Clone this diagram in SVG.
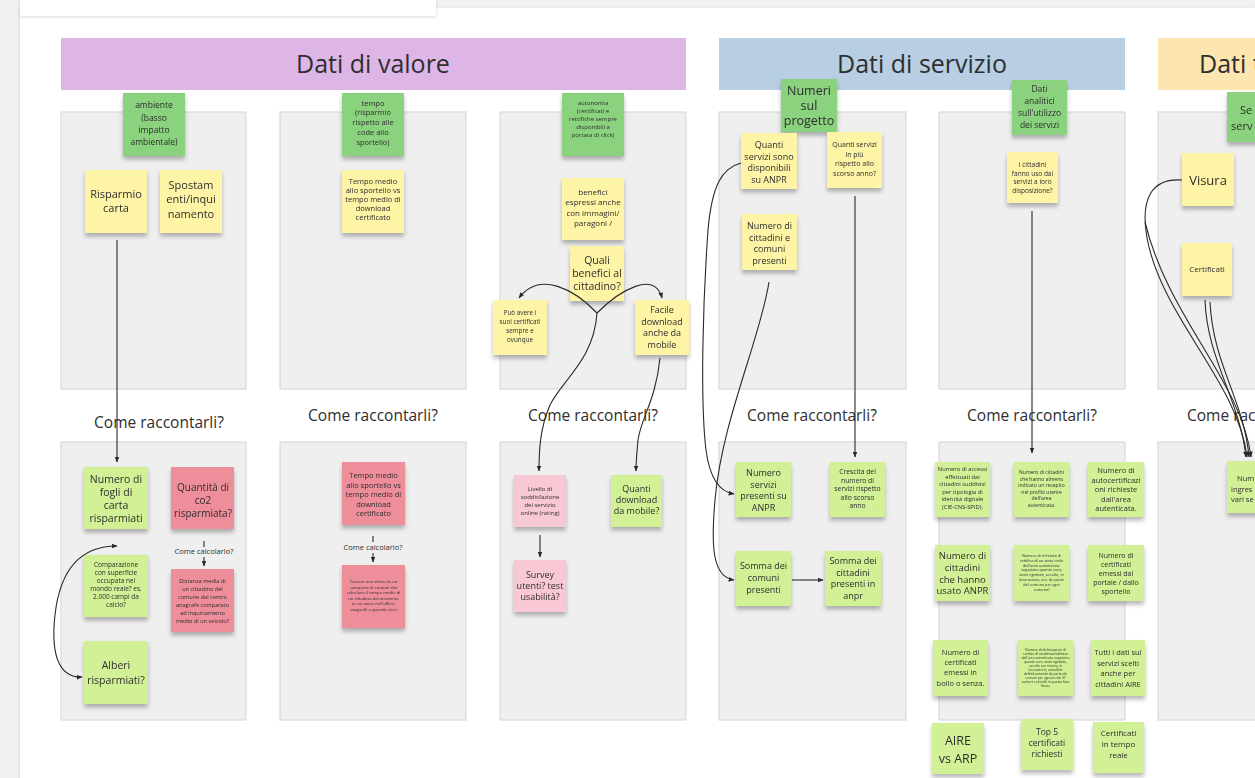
<svg xmlns="http://www.w3.org/2000/svg" width="1255" height="778" viewBox="0 0 1255 778">
<defs>
<style>
.t{font-family:"Open Sans","Noto Sans","DejaVu Sans",sans-serif;fill:#2e2e2e;text-anchor:middle}
.ts{font-family:"Open Sans","Noto Sans","DejaVu Sans",sans-serif;fill:#2e2e2e;text-anchor:start}
.panel{fill:#efefef;stroke:#d3d3d3;stroke-width:1}
.y{fill:#fdf4a6}
.g{fill:#8bd27e}
.l{fill:#d2f095}
.r{fill:#ef8e9b}
.p{fill:#f9c8d5}
.st{filter:url(#sh)}
.c{fill:none;stroke:#2a2a2a;stroke-width:1.1}
</style>
<filter id="sh" x="-20%" y="-20%" width="140%" height="150%">
<feDropShadow dx="0" dy="3.5" stdDeviation="2" flood-color="#000" flood-opacity="0.28"/>
</filter>
<filter id="sh2" x="-5%" y="-50%" width="110%" height="250%">
<feDropShadow dx="0" dy="1" stdDeviation="1.5" flood-color="#000" flood-opacity="0.15"/>
</filter>
<marker id="ah" viewBox="0 0 10 10" refX="9" refY="5" markerWidth="6" markerHeight="6" orient="auto-start-reverse" markerUnits="userSpaceOnUse">
<path d="M0,1 L10,5 L0,9 Z" fill="#2a2a2a"/>
</marker>
</defs>

<rect x="0" y="0" width="1255" height="778" fill="#f1f1f1"/>
<rect x="20" y="8" width="1235" height="770" fill="#ffffff" filter="url(#sh2)"/>
<rect x="20" y="0" width="416" height="16" fill="#ffffff" filter="url(#sh2)"/>

<g id="headers">
<rect x="61" y="38" width="625" height="52" fill="#ddb6e6"/>
<text class="t" x="373" y="73" style="font-size:25px">Dati di valore</text>
<rect x="719" y="38" width="406" height="52" fill="#b8cee2"/>
<text class="t" x="922" y="73" style="font-size:25px">Dati di servizio</text>
<rect x="1158" y="38" width="110" height="52" fill="#fce5ae"/>
<text class="ts" x="1199" y="73" style="font-size:25px">Dati t</text>
</g>

<g id="panels">
<rect class="panel" x="61" y="112" width="185" height="277"/>
<rect class="panel" x="280" y="112" width="186" height="277"/>
<rect class="panel" x="500" y="112" width="186" height="277"/>
<rect class="panel" x="719" y="112" width="187" height="277"/>
<rect class="panel" x="939" y="112" width="186" height="277"/>
<rect class="panel" x="1158" y="112" width="110" height="277"/>
<rect class="panel" x="61" y="442" width="185" height="278"/>
<rect class="panel" x="280" y="442" width="186" height="278"/>
<rect class="panel" x="500" y="442" width="186" height="278"/>
<rect class="panel" x="719" y="442" width="187" height="278"/>
<rect class="panel" x="939" y="442" width="186" height="278"/>
<rect class="panel" x="1158" y="442" width="110" height="278"/>
</g>

<g id="labels">
<text class="t" x="159" y="428" style="font-size:15.5px">Come raccontarli?</text>
<text class="t" x="373" y="421" style="font-size:15.5px">Come raccontarli?</text>
<text class="t" x="593" y="421" style="font-size:15.5px">Come raccontarli?</text>
<text class="t" x="812" y="421" style="font-size:15.5px">Come raccontarli?</text>
<text class="t" x="1032" y="421" style="font-size:15.5px">Come raccontarli?</text>
<text class="ts" x="1187" y="421" style="font-size:15.5px">Come rac</text>
</g>

<!-- Column 1 -->
<g id="n-ambiente" class="st"><rect class="g" x="123" y="93" width="62" height="63"/>
<text class="t" style="font-size:8.5px"><tspan x="154" y="108">ambiente</tspan><tspan x="154" y="121">(basso</tspan><tspan x="154" y="133">impatto</tspan><tspan x="154" y="145">ambientale)</tspan></text></g>
<g id="n-risparmio-carta" class="st"><rect class="y" x="85" y="170" width="62" height="63"/>
<text class="t" style="font-size:11px"><tspan x="116" y="198">Risparmio</tspan><tspan x="116" y="212">carta</tspan></text></g>
<g id="n-spostamenti" class="st"><rect class="y" x="160" y="170" width="62" height="63"/>
<text class="t" style="font-size:11px"><tspan x="191" y="189">Spostam</tspan><tspan x="191" y="203">enti/inqui</tspan><tspan x="191" y="218">namento</tspan></text></g>
<g id="n-fogli" class="st"><rect class="l" x="84" y="467" width="64" height="62"/>
<text class="t" style="font-size:10.5px"><tspan x="116" y="483">Numero di</tspan><tspan x="116" y="496">fogli di</tspan><tspan x="116" y="509">carta</tspan><tspan x="116" y="522">risparmiati</tspan></text></g>
<g id="n-co2" class="st"><rect class="r" x="171" y="467" width="63" height="62"/>
<text class="t" style="font-size:10px"><tspan x="203" y="491">Quantità di</tspan><tspan x="203" y="504">co2</tspan><tspan x="203" y="517">risparmiata?</tspan></text></g>
<g id="n-calc1"><text class="t" x="204" y="554" style="font-size:7.5px">Come calcolarlo?</text></g>
<g id="n-comparazione" class="st"><rect class="l" x="84" y="555" width="64" height="62"/>
<text class="t" style="font-size:6.5px"><tspan x="116" y="567">Comparazione</tspan><tspan x="116" y="575">con superficie</tspan><tspan x="116" y="583">occupata nel</tspan><tspan x="116" y="591">mondo reale? es.</tspan><tspan x="116" y="599">2.000 campi da</tspan><tspan x="116" y="607">calcio?</tspan></text></g>
<g id="n-distanza" class="st"><rect class="r" x="171" y="569" width="63" height="63"/>
<text class="t" style="font-size:5.6px"><tspan x="202.5" y="583">Distanza media di</tspan><tspan x="202.5" y="591">un cittadino del</tspan><tspan x="202.5" y="599">comune dal centro</tspan><tspan x="202.5" y="607">anagrafe comparato</tspan><tspan x="202.5" y="615">ad inquinamento</tspan><tspan x="202.5" y="623">medio di un veicolo?</tspan></text></g>
<g id="n-alberi" class="st"><rect class="l" x="84" y="641" width="64" height="63"/>
<text class="t" style="font-size:10.5px"><tspan x="116" y="669">Alberi</tspan><tspan x="116" y="684">risparmiati?</tspan></text></g>

<!-- Column 2 -->
<g id="n-tempo" class="st"><rect class="g" x="342" y="93" width="62" height="63"/>
<text class="t" style="font-size:7.5px"><tspan x="373" y="106">tempo</tspan><tspan x="373" y="115">(risparmio</tspan><tspan x="373" y="125">rispetto alle</tspan><tspan x="373" y="135">code allo</tspan><tspan x="373" y="145">sportello)</tspan></text></g>
<g id="n-tempo-medio" class="st"><rect class="y" x="342" y="170" width="62" height="63"/>
<text class="t" style="font-size:7.5px"><tspan x="373" y="184">Tempo medio</tspan><tspan x="373" y="193">allo sportello vs</tspan><tspan x="373" y="202">tempo medio di</tspan><tspan x="373" y="211">download</tspan><tspan x="373" y="220">certificato</tspan></text></g>
<g id="n-tempo-medio-2" class="st"><rect class="r" x="342" y="462" width="63" height="63"/>
<text class="t" style="font-size:7.5px"><tspan x="373.5" y="478">Tempo medio</tspan><tspan x="373.5" y="487.5">allo sportello vs</tspan><tspan x="373.5" y="497">tempo medio di</tspan><tspan x="373.5" y="506.5">download</tspan><tspan x="373.5" y="516">certificato</tspan></text></g>
<g id="n-calc2"><text class="t" x="373" y="550" style="font-size:7.5px">Come calcolarlo?</text></g>
<g id="n-stima" class="st"><rect class="r" x="342" y="565" width="63" height="63"/>
<text class="t" style="font-size:4.2px"><tspan x="373.5" y="583">Trovare una stima da un</tspan><tspan x="373.5" y="588.5">campione di comuni che</tspan><tspan x="373.5" y="594">calcolano il tempo medio di</tspan><tspan x="373.5" y="599.5">un cittadino dal momento</tspan><tspan x="373.5" y="605">in cui entra nell'ufficio</tspan><tspan x="373.5" y="610.5">anagrafe a quando esce</tspan></text></g>

<!-- Column 3 -->
<g id="n-autonomia" class="st"><rect class="g" x="562" y="93" width="62" height="63"/>
<text class="t" style="font-size:6px"><tspan x="593" y="105">autonomia</tspan><tspan x="593" y="113">(certificati e</tspan><tspan x="593" y="121">rettifiche sempre</tspan><tspan x="593" y="129">disponibili a</tspan><tspan x="593" y="137">portata di click)</tspan></text></g>
<g id="n-benefici-espressi" class="st"><rect class="y" x="562" y="178" width="62" height="62"/>
<text class="t" style="font-size:8px"><tspan x="593" y="195">benefici</tspan><tspan x="593" y="205">espressi anche</tspan><tspan x="593" y="215.5">con immagini/</tspan><tspan x="593" y="226">paragoni /</tspan></text></g>
<g id="n-quali-benefici" class="st"><rect class="y" x="570" y="246" width="54" height="55"/>
<text class="t" style="font-size:10.5px"><tspan x="597" y="264">Quali</tspan><tspan x="597" y="277">benefici al</tspan><tspan x="597" y="290">cittadino?</tspan></text></g>
<g id="n-puo-avere" class="st"><rect class="y" x="493" y="300" width="54" height="55"/>
<text class="t" style="font-size:6.3px"><tspan x="520" y="315">Può avere i</tspan><tspan x="520" y="324">suoi certificati</tspan><tspan x="520" y="333">sempre e</tspan><tspan x="520" y="342">ovunque</tspan></text></g>
<g id="n-facile" class="st"><rect class="y" x="635" y="300" width="54" height="55"/>
<text class="t" style="font-size:9px"><tspan x="662" y="313">Facile</tspan><tspan x="662" y="325">download</tspan><tspan x="662" y="336">anche da</tspan><tspan x="662" y="348">mobile</tspan></text></g>
<g id="n-livello" class="st"><rect class="p" x="514" y="475" width="52" height="52"/>
<text class="t" style="font-size:6px"><tspan x="540" y="491">Livello di</tspan><tspan x="540" y="499">soddisfazione</tspan><tspan x="540" y="507">del servizio</tspan><tspan x="540" y="515">online (rating)</tspan></text></g>
<g id="n-quanti-download" class="st"><rect class="l" x="611" y="475" width="51" height="52"/>
<text class="t" style="font-size:9px"><tspan x="636.5" y="492">Quanti</tspan><tspan x="636.5" y="503">download</tspan><tspan x="636.5" y="514">da mobile?</tspan></text></g>
<g id="n-survey" class="st"><rect class="p" x="514" y="560" width="52" height="52"/>
<text class="t" style="font-size:9px"><tspan x="540" y="578">Survey</tspan><tspan x="540" y="589">utenti? test</tspan><tspan x="540" y="600">usabilità?</tspan></text></g>

<!-- Column 4 -->
<g id="n-numeri-progetto" class="st"><rect class="g" x="781" y="79" width="56" height="53"/>
<text class="t" style="font-size:12.5px"><tspan x="809" y="95">Numeri</tspan><tspan x="809" y="110">sul</tspan><tspan x="809" y="125">progetto</tspan></text></g>
<g id="n-quanti-servizi" class="st"><rect class="y" x="741" y="133" width="56" height="56"/>
<text class="t" style="font-size:9px"><tspan x="769" y="148">Quanti</tspan><tspan x="769" y="159.5">servizi sono</tspan><tspan x="769" y="171">disponibili</tspan><tspan x="769" y="182.5">su ANPR</tspan></text></g>
<g id="n-quanti-in-piu" class="st"><rect class="y" x="827" y="132" width="55" height="56"/>
<text class="t" style="font-size:7px"><tspan x="854.5" y="147">Quanti servizi</tspan><tspan x="854.5" y="156.5">in più</tspan><tspan x="854.5" y="166">rispetto allo</tspan><tspan x="854.5" y="175.5">scorso anno?</tspan></text></g>
<g id="n-numero-cittadini" class="st"><rect class="y" x="742" y="214" width="55" height="56"/>
<text class="t" style="font-size:9px"><tspan x="769.5" y="229">Numero di</tspan><tspan x="769.5" y="240.5">cittadini e</tspan><tspan x="769.5" y="252">comuni</tspan><tspan x="769.5" y="263.5">presenti</tspan></text></g>
<g id="n-numero-servizi" class="st"><rect class="l" x="736" y="462" width="55" height="55"/>
<text class="t" style="font-size:9px"><tspan x="763.5" y="476">Numero</tspan><tspan x="763.5" y="487.5">servizi</tspan><tspan x="763.5" y="499">presenti su</tspan><tspan x="763.5" y="510.5">ANPR</tspan></text></g>
<g id="n-crescita" class="st"><rect class="l" x="830" y="462" width="55" height="55"/>
<text class="t" style="font-size:6.8px"><tspan x="857.5" y="474">Crescita del</tspan><tspan x="857.5" y="482.5">numero di</tspan><tspan x="857.5" y="491">servizi rispetto</tspan><tspan x="857.5" y="499.5">allo scorso</tspan><tspan x="857.5" y="508">anno</tspan></text></g>
<g id="n-somma-comuni" class="st"><rect class="l" x="736" y="551" width="55" height="55"/>
<text class="t" style="font-size:9px"><tspan x="763.5" y="569">Somma dei</tspan><tspan x="763.5" y="581">comuni</tspan><tspan x="763.5" y="593">presenti</tspan></text></g>
<g id="n-somma-cittadini" class="st"><rect class="l" x="825" y="551" width="56" height="55"/>
<text class="t" style="font-size:9px"><tspan x="853" y="564">Somma dei</tspan><tspan x="853" y="575.5">cittadini</tspan><tspan x="853" y="587">presenti in</tspan><tspan x="853" y="598.5">anpr</tspan></text></g>

<!-- Column 5 -->
<g id="n-dati-analitici" class="st"><rect class="g" x="1012" y="80" width="55" height="55"/>
<text class="t" style="font-size:8.5px"><tspan x="1039.5" y="92">Dati</tspan><tspan x="1039.5" y="104">analitici</tspan><tspan x="1039.5" y="116">sull'utilizzo</tspan><tspan x="1039.5" y="128">dei servizi</tspan></text></g>
<g id="n-i-cittadini" class="st"><rect class="y" x="1007" y="152" width="51" height="51"/>
<text class="t" style="font-size:6.5px"><tspan x="1032.5" y="167">I cittadini</tspan><tspan x="1032.5" y="175.5">fanno uso dai</tspan><tspan x="1032.5" y="184">servizi a loro</tspan><tspan x="1032.5" y="192.5">disposizione?</tspan></text></g>
<g id="n-accessi" class="st"><rect class="l" x="935" y="462" width="55" height="55"/>
<text class="t" style="font-size:5.8px"><tspan x="962.5" y="471">Numero di accessi</tspan><tspan x="962.5" y="478.5">effettuati dai</tspan><tspan x="962.5" y="486">cittadini suddivisi</tspan><tspan x="962.5" y="493.5">per tipologia di</tspan><tspan x="962.5" y="501">identità digitale</tspan><tspan x="962.5" y="508.5">(CIE-CNS-SPID).</tspan></text></g>
<g id="n-recapito" class="st"><rect class="l" x="1014" y="462" width="55" height="55"/>
<text class="t" style="font-size:5px"><tspan x="1041.5" y="474">Numero di cittadini</tspan><tspan x="1041.5" y="480.5">che hanno almeno</tspan><tspan x="1041.5" y="487">indicato un recapito</tspan><tspan x="1041.5" y="493.5">nel profilo utente</tspan><tspan x="1041.5" y="500">dell'area</tspan><tspan x="1041.5" y="506.5">autenticata.</tspan></text></g>
<g id="n-autocert" class="st"><rect class="l" x="1088" y="462" width="56" height="55"/>
<text class="t" style="font-size:7.5px"><tspan x="1116" y="473">Numero di</tspan><tspan x="1116" y="482.5">autocertificazi</tspan><tspan x="1116" y="492">oni richieste</tspan><tspan x="1116" y="501.5">dall'area</tspan><tspan x="1116" y="511">autenticata.</tspan></text></g>
<g id="n-usato-anpr" class="st"><rect class="l" x="935" y="545" width="55" height="56"/>
<text class="t" style="font-size:9.5px"><tspan x="962.5" y="559">Numero di</tspan><tspan x="962.5" y="571">cittadini</tspan><tspan x="962.5" y="582.5">che hanno</tspan><tspan x="962.5" y="594">usato ANPR</tspan></text></g>
<g id="n-rettifica" class="st"><rect class="l" x="1014" y="545" width="55" height="56"/>
<text class="t" style="font-size:3.8px"><tspan x="1041.5" y="557">Numero di richieste di</tspan><tspan x="1041.5" y="561.8">rettifica di un stato civile</tspan><tspan x="1041.5" y="566.6">dall'area autenticata:</tspan><tspan x="1041.5" y="571.4">sappiamo quante sono</tspan><tspan x="1041.5" y="576.2">state rigettate, accolte, in</tspan><tspan x="1041.5" y="581">lavorazione, ecc. da parte</tspan><tspan x="1041.5" y="585.8">del comune per ogni</tspan><tspan x="1041.5" y="590.6">comune)</tspan></text></g>
<g id="n-cert-emessi" class="st"><rect class="l" x="1088" y="545" width="56" height="56"/>
<text class="t" style="font-size:7px"><tspan x="1116" y="557.5">Numero di</tspan><tspan x="1116" y="566.5">certificati</tspan><tspan x="1116" y="575.5">emessi dal</tspan><tspan x="1116" y="584.5">portale / dallo</tspan><tspan x="1116" y="593.5">sportello</tspan></text></g>
<g id="n-bollo" class="st"><rect class="l" x="933" y="640" width="55" height="56"/>
<text class="t" style="font-size:7.5px"><tspan x="960.5" y="655">Numero di</tspan><tspan x="960.5" y="665">certificati</tspan><tspan x="960.5" y="675">emessi in</tspan><tspan x="960.5" y="686">bollo o senza.</tspan></text></g>
<g id="n-dichiarazioni" class="st"><rect class="l" x="1018" y="640" width="55" height="56"/>
<text class="t" style="font-size:3.3px"><tspan x="1045.5" y="651">Numero di dichiarazioni di</tspan><tspan x="1045.5" y="655">cambio di residenza/indirizzo</tspan><tspan x="1045.5" y="659">dall'area autenticata: sappiamo</tspan><tspan x="1045.5" y="663">quante sono state rigettate,</tspan><tspan x="1045.5" y="667">accolte con riserva, in</tspan><tspan x="1045.5" y="671">lavorazione, annullate</tspan><tspan x="1045.5" y="675">definitivamente da parte dei</tspan><tspan x="1045.5" y="679">comuni per ognuno dei 37</tspan><tspan x="1045.5" y="683">comuni coinvolti in questa fase</tspan><tspan x="1045.5" y="687">finora</tspan></text></g>
<g id="n-aire-dati" class="st"><rect class="l" x="1091" y="640" width="54" height="56"/>
<text class="t" style="font-size:7.5px"><tspan x="1118" y="655">Tutti i dati sui</tspan><tspan x="1118" y="666">servizi scelti</tspan><tspan x="1118" y="676">anche per</tspan><tspan x="1118" y="687">cittadini AIRE</tspan></text></g>
<g id="n-aire-arp" class="st"><rect class="l" x="932" y="723" width="52" height="51"/>
<text class="t" style="font-size:12.5px"><tspan x="958" y="745">AIRE</tspan><tspan x="958" y="763">vs ARP</tspan></text></g>
<g id="n-top5" class="st"><rect class="l" x="1021" y="719" width="52" height="51"/>
<text class="t" style="font-size:8.5px"><tspan x="1047" y="735">Top 5</tspan><tspan x="1047" y="746">certificati</tspan><tspan x="1047" y="757">richiesti</tspan></text></g>
<g id="n-tempo-reale" class="st"><rect class="l" x="1093" y="722" width="51" height="51"/>
<text class="t" style="font-size:8px"><tspan x="1118.5" y="736">Certificati</tspan><tspan x="1118.5" y="747">in tempo</tspan><tspan x="1118.5" y="758">reale</tspan></text></g>

<!-- Column 6 -->
<g id="n-servizi-top" class="st"><rect class="g" x="1227" y="92" width="40" height="50"/>
<text class="ts" style="font-size:11px"><tspan x="1240" y="114">Se</tspan><tspan x="1231" y="130">serv</tspan></text></g>
<g id="n-visura" class="st"><rect class="y" x="1182" y="153" width="52" height="53"/>
<text class="t" x="1208" y="185" style="font-size:13px">Visura</text></g>
<g id="n-certificati" class="st"><rect class="y" x="1182" y="243" width="50" height="53"/>
<text class="t" x="1207" y="272" style="font-size:8px">Certificati</text></g>
<g id="n-ingressi" class="st"><rect class="l" x="1227" y="461" width="40" height="52"/>
<text class="ts" style="font-size:7.5px"><tspan x="1237" y="481">Num</tspan><tspan x="1231" y="492">ingres</tspan><tspan x="1231" y="502">vari se</tspan></text></g>

<g id="connectors">
<path class="c" d="M117,240 L117,462" marker-end="url(#ah)"/>
<path class="c" d="M204,541 L204,547"/>
<path class="c" d="M204,557 L204,566" marker-end="url(#ah)"/>
<path class="c" d="M117,546 C80,546 60,570 55,615 C50,660 62,678 82,677" marker-start="url(#ah)" marker-end="url(#ah)"/>
<path class="c" d="M373,536 L373,542"/>
<path class="c" d="M373,553 L373,562" marker-end="url(#ah)"/>
<path class="c" d="M597,313 C575,290 540,270 519,298" marker-end="url(#ah)"/>
<path class="c" d="M597,313 C620,290 655,270 662,298" marker-end="url(#ah)"/>
<path class="c" d="M597,313 C594,360 562,380 550,405 C540,428 539,450 539,471" marker-end="url(#ah)"/>
<path class="c" d="M660,358 C656,400 641,418 638,440 C637,452 636,460 636,471" marker-end="url(#ah)"/>
<path class="c" d="M540,535 L540,557" marker-end="url(#ah)"/>
<path class="c" d="M741,163 C722,168 712,185 708,230 C703,300 700,400 706,450 C710,480 720,492 734,494" marker-end="url(#ah)"/>
<path class="c" d="M769,282 C760,340 722,420 715,500 C711,545 712,577 734,580" marker-end="url(#ah)"/>
<path class="c" d="M855,196 L855,457" marker-end="url(#ah)"/>
<path class="c" d="M792,580 L823,580" marker-end="url(#ah)"/>
<path class="c" d="M1032,211 L1032,453" marker-end="url(#ah)"/>
<path class="c" d="M1182,180 C1152,178 1140,198 1147,238 C1162,318 1238,382 1247,457" marker-end="url(#ah)"/>
<path class="c" d="M1145,222 C1168,318 1242,382 1251,457" marker-end="url(#ah)"/>
<path class="c" d="M1205,300 C1207,360 1240,400 1246,457" marker-end="url(#ah)"/>
<path class="c" d="M1210,302 C1213,365 1244,400 1249,457" marker-end="url(#ah)"/>
</g>
</svg>
